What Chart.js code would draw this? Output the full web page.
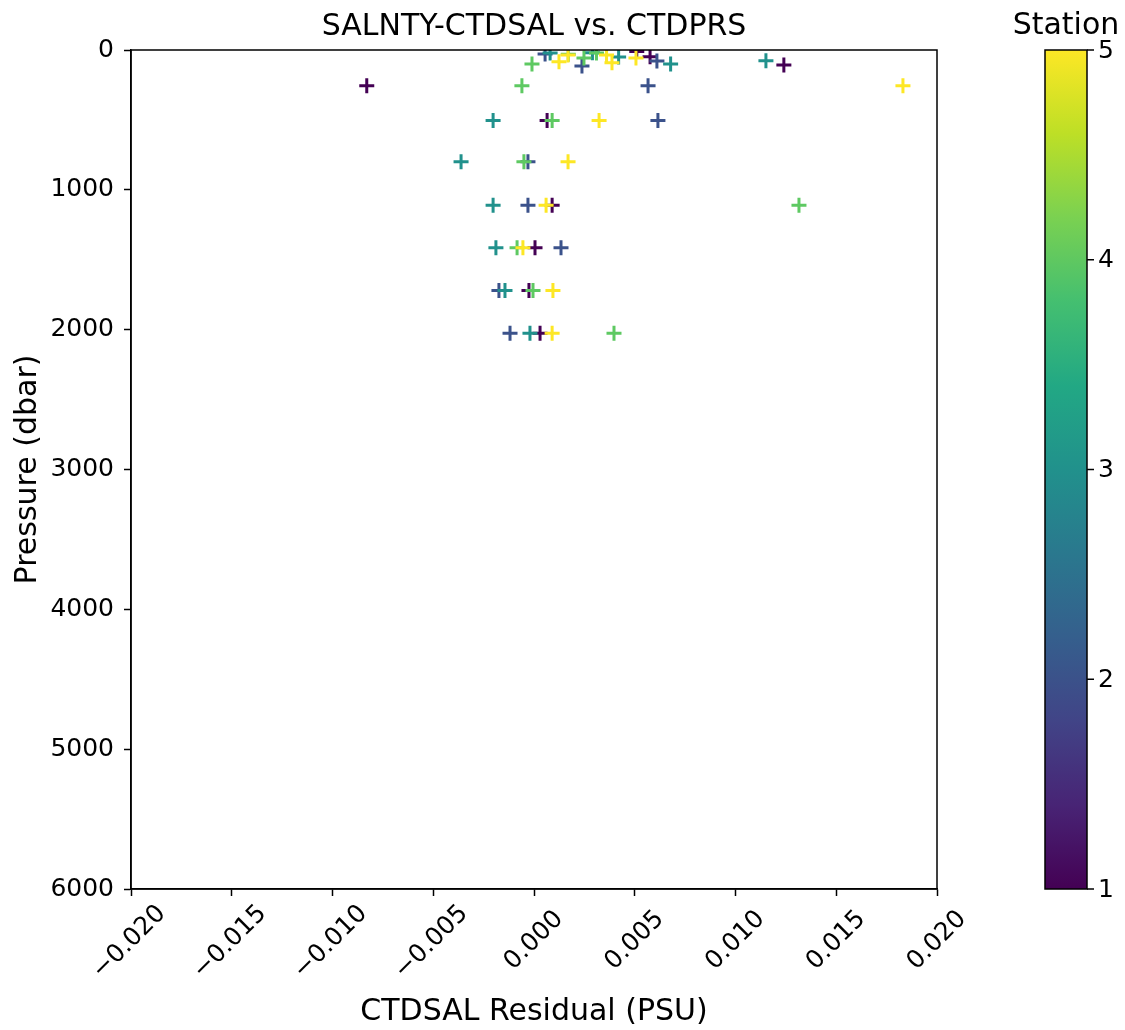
<!DOCTYPE html>
<html>
<head>
<meta charset="utf-8">
<script src="https://cdn.jsdelivr.net/npm/chart.js@4.4.1/dist/chart.umd.min.js"></script>
<style>
  body { margin: 0; background: #fff; }
</style>
</head>
<body>
<canvas id="chart" width="1125" height="1030"></canvas>
<script>
// residual (PSU) and pressure (dbar) per station
const stations = [1, 2, 3, 4, 5];
const stationColors = ['#440154', '#3b528b', '#21918c', '#5ec962', '#fde725'];

const resid1 = [0.0051, 0.00576, 0.0124, -0.0083, 0.00065, 0.0009, 0.00005, -0.00025, 0.0003];
const pres1  = [10, 48, 107, 255, 505, 1110, 1415, 1720, 2025];

const resid2 = [0.00055, 0.0061, 0.00238, 0.00566, 0.00615, -0.0003, -0.0003, 0.00134, -0.00174, -0.00119];
const pres2  = [29, 79, 114, 255, 505, 800, 1110, 1415, 1720, 2025];

const resid3 = [0.0008, 0.0029, 0.0042, 0.01151, 0.00678, -0.00203, -0.00362, -0.00203, -0.00189, -0.00144, -0.0002];
const pres3  = [21, 20, 50, 76, 100, 505, 800, 1110, 1415, 1720, 2025];

const resid4 = [0.0031, 0.0017, 0.00248, -0.0001, -0.0006, 0.0009, -0.0005, 0.01315, -0.00084, -0.00005, 0.00397];
const pres4  = [21, 30, 57, 100, 255, 505, 800, 1110, 1415, 1720, 2025];

const resid5 = [0.00169, 0.0036, 0.00506, 0.00124, 0.00387, 0.01831, 0.00323, 0.00169, 0.0006, -0.00055, 0.00094, 0.0009];
const pres5  = [36, 36, 57, 84, 91, 255, 505, 800, 1110, 1415, 1720, 2025];

const residuals = [resid1, resid2, resid3, resid4, resid5];
const pressures = [pres1, pres2, pres3, pres4, pres5];

const colorbarTicks = [1, 2, 3, 4, 5];
const viridisStops = ['#440154', '#482475', '#414487', '#355f8d', '#2a788e', '#21918c',
                      '#22a884', '#44bf70', '#7ad151', '#bddf26', '#fde725'];

const FONT = 'DejaVu Sans';
const TITLE = 'SALNTY-CTDSAL vs. CTDPRS';

const datasets = stations.map((s, i) => ({
    label: 'Station ' + s,
    data: residuals[i].map((r, j) => ({ x: r, y: pressures[i][j] })),
    pointStyle: 'cross',
    pointRadius: 7.5,
    pointHoverRadius: 7.5,
    pointBorderWidth: 3,
    borderColor: stationColors[i],
    backgroundColor: stationColors[i],
    showLine: false,
    clip: 0,
    order: stations.length - i
}));

// box around the plot area + title centred over it
const framePlugin = {
    id: 'frame',
    afterDraw(chart) {
        const { ctx, chartArea: a } = chart;
        ctx.save();
        ctx.strokeStyle = '#000';
        ctx.lineWidth = 1.5;
        ctx.strokeRect(a.left, a.top, a.right - a.left, a.bottom - a.top);

        ctx.fillStyle = '#000';
        ctx.font = '30px "' + FONT + '"';
        ctx.textAlign = 'center';
        ctx.textBaseline = 'middle';
        ctx.fillText(TITLE, (a.left + a.right) / 2, 27);
        ctx.restore();
    }
};

// colorbar on the right
const colorbarPlugin = {
    id: 'colorbar',
    afterDraw(chart) {
        const { ctx, chartArea: a } = chart;
        const x0 = 1045, x1 = 1087;
        const top = a.top, bottom = a.bottom;
        ctx.save();
        const grad = ctx.createLinearGradient(0, bottom, 0, top);
        viridisStops.forEach((c, i) => grad.addColorStop(i / (viridisStops.length - 1), c));
        ctx.fillStyle = grad;
        ctx.fillRect(x0, top, x1 - x0, bottom - top);
        ctx.strokeStyle = '#000';
        ctx.lineWidth = 1.5;
        ctx.strokeRect(x0, top, x1 - x0, bottom - top);

        ctx.fillStyle = '#000';
        ctx.font = '25px "' + FONT + '"';
        ctx.textAlign = 'left';
        ctx.textBaseline = 'middle';
        const lo = colorbarTicks[0], hi = colorbarTicks[colorbarTicks.length - 1];
        colorbarTicks.forEach(v => {
            const y = bottom - (v - lo) / (hi - lo) * (bottom - top);
            ctx.beginPath();
            ctx.moveTo(x1, y);
            ctx.lineTo(x1 + 7, y);
            ctx.stroke();
            ctx.fillText(String(v), x1 + 11, y + 1);
        });

        ctx.font = '30px "' + FONT + '"';
        ctx.textAlign = 'center';
        ctx.fillText('Station', 1066, 26);
        ctx.restore();
    }
};

new Chart(document.getElementById('chart'), {
    type: 'scatter',
    data: { datasets },
    options: {
        responsive: false,
        animation: false,
        layout: { padding: { left: 0, right: 188, top: 50, bottom: 0 } },
        plugins: {
            legend: { display: false },
            tooltip: { enabled: false },
            title: { display: false }
        },
        scales: {
            x: {
                type: 'linear',
                min: -0.02,
                max: 0.02,
                afterFit(scale) { scale.height = 141; },
                border: { display: true, color: '#000', width: 1.5 },
                grid: { drawOnChartArea: false, drawTicks: true, tickLength: 7, color: '#000', tickWidth: 1.5 },
                ticks: {
                    stepSize: 0.005,
                    minRotation: 45,
                    maxRotation: 45,
                    labelOffset: 31,
                    color: '#000',
                    padding: 3,
                    font: { family: FONT, size: 25 },
                    callback: v => {
                        const r = Math.round(v * 1000) / 1000;
                        const s = r.toFixed(3).replace('-', '\u2212');
                        return r < 0 ? s : s + ' ';
                    }
                },
                title: {
                    display: true,
                    text: 'CTDSAL Residual (PSU)',
                    color: '#000',
                    font: { family: FONT, size: 30 },
                    padding: { top: 0, bottom: 0 }
                }
            },
            y: {
                type: 'linear',
                reverse: true,
                min: 0,
                max: 6000,
                afterFit(scale) { scale.width = 131; },
                border: { display: true, color: '#000', width: 1.5 },
                grid: { drawOnChartArea: false, drawTicks: true, tickLength: 7, color: '#000', tickWidth: 1.5 },
                ticks: {
                    stepSize: 1000,
                    color: '#000',
                    padding: 10,
                    font: { family: FONT, size: 25 },
                    callback: v => String(v)
                },
                title: {
                    display: true,
                    text: 'Pressure (dbar)',
                    color: '#000',
                    font: { family: FONT, size: 30 },
                    padding: { top: 10, bottom: 0 }
                }
            }
        }
    },
    plugins: [framePlugin, colorbarPlugin]
});
</script>
</body>
</html>
